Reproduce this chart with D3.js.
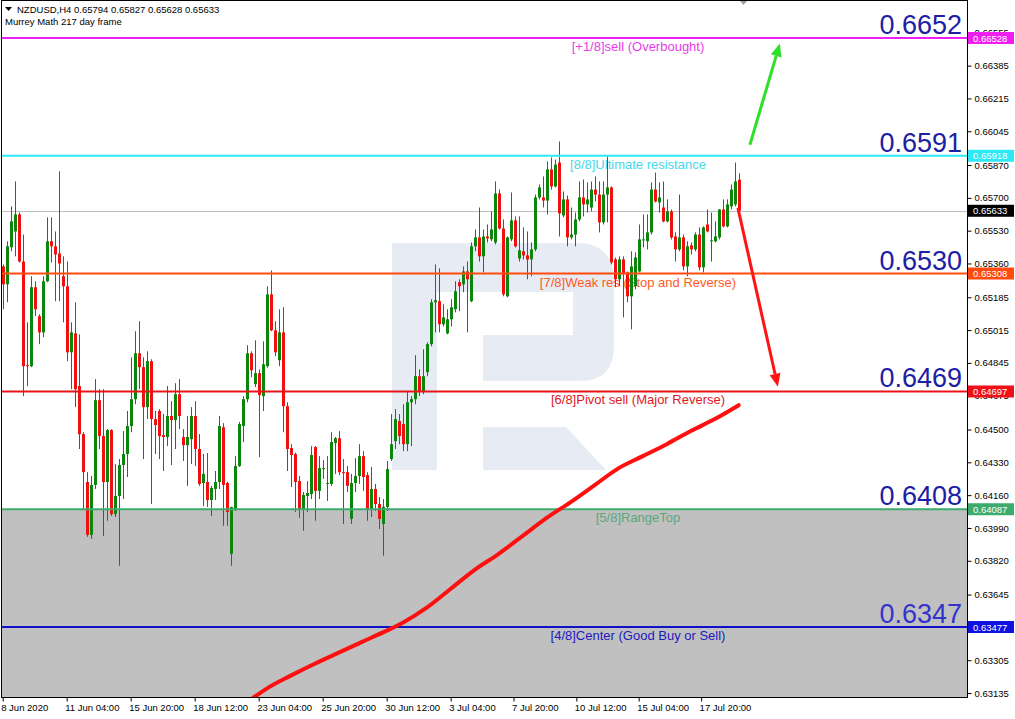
<!DOCTYPE html>
<html><head><meta charset="utf-8">
<script src="https://cdn.jsdelivr.net/npm/d3@7"></script>
<style>
body{margin:0;background:#fff}
svg{display:block;font-family:"Liberation Sans",Arial,sans-serif}
</style>
</head><body>
<svg id="c" width="1015" height="719"></svg>
<script>
// ---------------- DATA ----------------
const symbolTitle = "NZDUSD,H4  0.65794 0.65827 0.65628 0.65633";
const indicatorTitle = "Murrey Math 217 day frame";

const opens = [0.65345,0.65252,0.65444,0.65526,0.65614,0.65370,0.64833,0.64828,0.65237,0.65087,
0.65003,0.65268,0.65475,0.65449,0.65412,0.65294,0.65242,0.64900,0.64998,0.64725,
0.64476,0.64228,0.63954,0.64213,0.64652,0.64466,0.64228,0.64497,0.64062,0.64156,
0.64316,0.64373,0.64518,0.64657,0.64895,0.64823,0.64616,0.64854,0.64554,0.64596,
0.64471,0.64461,0.64570,0.64549,0.64683,0.64461,0.64419,0.64450,0.64570,0.64399,
0.64223,0.64228,0.64135,0.64192,0.64228,0.64512,0.64223,0.63856,0.64088,0.64311,
0.64518,0.64657,0.64895,0.64735,0.64792,0.64673,0.64828,0.65200,0.65014,0.64859,
0.65003,0.64621,0.64404,0.64373,0.64233,0.64088,0.64156,0.64166,0.64409,0.64182,
0.64295,0.64218,0.64218,0.64430,0.64455,0.64279,0.64279,0.64037,0.64223,0.64259,
0.64362,0.64264,0.64088,0.64192,0.64114,0.64011,0.64099,0.64347,0.64440,0.64544,
0.64528,0.64424,0.64641,0.64657,0.64776,0.64694,0.64797,0.64942,0.65159,0.65165,
0.65045,0.64998,0.65071,0.65123,0.65263,0.65252,0.65319,0.65165,0.65449,0.65495,
0.65397,0.65500,0.65485,0.65469,0.65723,0.65541,0.65190,0.65485,0.65583,0.65386,
0.65423,0.65402,0.65381,0.65433,0.65702,0.65702,0.65686,0.65847,0.65759,0.65883,
0.65609,0.65692,0.65495,0.65510,0.65588,0.65702,0.65666,0.65650,0.65743,0.65717,
0.65573,0.65717,0.65754,0.65381,0.65278,0.65381,0.65314,0.65190,0.65242,0.65319,
0.65480,0.65475,0.65521,0.65743,0.65676,0.65650,0.65578,0.65630,0.65500,0.65433,
0.65495,0.65345,0.65454,0.65433,0.65510,0.65340,0.65562,0.65475,0.65475,0.65495,
0.65640,0.65552,0.65656,0.65666,0.65794];
const highs = [0.65355,0.65475,0.65656,0.65785,0.65624,0.65510,0.65055,0.65294,0.65268,0.65097,
0.65294,0.65599,0.65599,0.65526,0.65837,0.65397,0.65370,0.65055,0.65159,0.64993,
0.64486,0.64279,0.64259,0.64761,0.64709,0.64709,0.64502,0.64502,0.64321,0.64347,
0.64492,0.64596,0.64874,0.65009,0.65061,0.64874,0.64905,0.64864,0.64596,0.64606,
0.64580,0.64725,0.64647,0.64740,0.64761,0.64502,0.64570,0.64616,0.64647,0.64476,
0.64373,0.64378,0.64208,0.64285,0.64570,0.64533,0.64230,0.64099,0.64362,0.64539,
0.64673,0.64937,0.64905,0.64962,0.64812,0.64957,0.65242,0.65324,0.65061,0.65123,
0.65133,0.64641,0.64424,0.64380,0.64259,0.64176,0.64233,0.64414,0.64414,0.64362,
0.64342,0.64362,0.64486,0.64461,0.64492,0.64347,0.64311,0.64270,0.64352,0.64424,
0.64388,0.64279,0.64306,0.64218,0.64150,0.64140,0.64337,0.64580,0.64606,0.64580,
0.64631,0.64694,0.64673,0.64885,0.64812,0.64916,0.64952,0.65175,0.65355,0.65335,
0.65149,0.65123,0.65175,0.65268,0.65278,0.65345,0.65370,0.65469,0.65536,0.65650,
0.65536,0.65562,0.65630,0.65785,0.65743,0.65588,0.65500,0.65728,0.65604,0.65604,
0.65547,0.65526,0.65469,0.65717,0.65769,0.65811,0.65888,0.65909,0.65898,0.65992,
0.65733,0.65712,0.65650,0.65624,0.65785,0.65795,0.65780,0.65785,0.65811,0.65785,
0.65785,0.65914,0.65759,0.65391,0.65397,0.65397,0.65319,0.65423,0.65418,0.65562,
0.65614,0.65614,0.65780,0.65831,0.65780,0.65785,0.65692,0.65640,0.65521,0.65717,
0.65510,0.65475,0.65469,0.65521,0.65547,0.65552,0.65640,0.65624,0.65578,0.65640,
0.65692,0.65692,0.65769,0.65883,0.65827];
const lows = [0.65123,0.65159,0.65423,0.65397,0.65365,0.64673,0.64725,0.64823,0.65087,0.64942,
0.64978,0.65263,0.65365,0.65165,0.65165,0.65055,0.64854,0.64709,0.64616,0.64399,
0.64088,0.63944,0.63933,0.64192,0.64399,0.63949,0.64027,0.64052,0.64047,0.63794,
0.64140,0.64254,0.64486,0.64631,0.64709,0.64347,0.64554,0.64114,0.64373,0.64347,
0.64285,0.64414,0.64316,0.64399,0.64502,0.64337,0.64208,0.64321,0.64311,0.64208,
0.64104,0.64099,0.64052,0.64135,0.64192,0.64001,0.64001,0.63794,0.64078,0.64306,
0.64435,0.64641,0.64771,0.64720,0.64357,0.64596,0.64820,0.65009,0.64880,0.64828,
0.64486,0.64285,0.64202,0.64073,0.64042,0.63975,0.64073,0.64140,0.64027,0.64140,
0.64244,0.64130,0.64208,0.64270,0.64264,0.64011,0.64176,0.64011,0.64176,0.64218,
0.64182,0.64027,0.64047,0.64078,0.63985,0.63846,0.64078,0.64337,0.64399,0.64424,
0.64388,0.64388,0.64414,0.64631,0.64673,0.64683,0.64776,0.64931,0.65003,0.65003,
0.65034,0.64993,0.65034,0.65107,0.65113,0.65211,0.65003,0.65159,0.65423,0.65370,
0.65314,0.65469,0.65475,0.65459,0.65536,0.65190,0.65185,0.65475,0.65443,0.65370,
0.65381,0.65278,0.65294,0.65423,0.65692,0.65650,0.65614,0.65743,0.65754,0.65500,
0.65599,0.65449,0.65485,0.65449,0.65578,0.65604,0.65624,0.65630,0.65681,0.65521,
0.65562,0.65573,0.65355,0.65237,0.65242,0.65081,0.65159,0.65019,0.65226,0.65314,
0.65443,0.65433,0.65510,0.65676,0.65624,0.65573,0.65573,0.65485,0.65370,0.65423,
0.65324,0.65294,0.65407,0.65423,0.65324,0.65314,0.65521,0.65370,0.65469,0.65485,
0.65547,0.65547,0.65640,0.65656,0.65628];
const closes = [0.65252,0.65449,0.65578,0.65614,0.65370,0.64828,0.64828,0.65237,0.65123,0.65003,
0.65268,0.65475,0.65449,0.65407,0.65360,0.65242,0.64900,0.65003,0.64709,0.64476,
0.64279,0.63954,0.64213,0.64652,0.64466,0.64228,0.64497,0.64062,0.64156,0.64316,
0.64373,0.64518,0.64657,0.64895,0.64823,0.64616,0.64854,0.64554,0.64523,0.64466,
0.64461,0.64570,0.64549,0.64683,0.64570,0.64419,0.64461,0.64570,0.64399,0.64218,
0.64270,0.64135,0.64197,0.64228,0.64518,0.64213,0.64073,0.64099,0.64311,0.64528,
0.64657,0.64895,0.64807,0.64792,0.64678,0.64838,0.65200,0.65014,0.64900,0.65003,
0.64621,0.64399,0.64368,0.64228,0.64088,0.64161,0.64171,0.64368,0.64182,0.64300,
0.64300,0.64223,0.64435,0.64455,0.64279,0.64274,0.64208,0.64223,0.64259,0.64362,
0.64254,0.64088,0.64192,0.64114,0.64037,0.64099,0.64295,0.64424,0.64554,0.64466,
0.64424,0.64641,0.64657,0.64776,0.64694,0.64776,0.64942,0.65159,0.65170,0.65045,
0.65081,0.65071,0.65133,0.65216,0.65242,0.65319,0.65278,0.65449,0.65495,0.65397,
0.65500,0.65490,0.65536,0.65723,0.65541,0.65200,0.65495,0.65583,0.65449,0.65428,
0.65402,0.65381,0.65433,0.65702,0.65754,0.65686,0.65847,0.65759,0.65872,0.65619,
0.65692,0.65495,0.65510,0.65588,0.65702,0.65666,0.65692,0.65743,0.65717,0.65573,
0.65717,0.65754,0.65365,0.65278,0.65381,0.65304,0.65190,0.65345,0.65391,0.65485,
0.65485,0.65521,0.65743,0.65681,0.65702,0.65578,0.65630,0.65495,0.65433,0.65495,
0.65345,0.65449,0.65433,0.65510,0.65340,0.65547,0.65526,0.65480,0.65500,0.65640,
0.65552,0.65666,0.65743,0.65785,0.65633];

// 200-period moving average, sampled at bar indices
const maBars   = [62,66,72,78,84,90,96,100,106,112,118,124,130,136,142,148,154,160,166,172,178,184];
const maValues = [0.63101,0.63158,0.63225,0.63287,0.63344,0.63401,0.63458,0.63499,0.63577,0.63675,
0.63773,0.63856,0.63949,0.64042,0.64124,0.64212,0.64300,0.64362,0.64424,0.64492,0.64554,0.64626];

// Murrey Math levels
const levelValues = [0.66528,0.65918,0.65308,0.64697,0.64087,0.63477];
const levelTexts  = ["[+1/8]sell (Overbought)","[8/8]Ultimate resistance","[7/8]Weak res (Stop and Reverse)",
                     "[6/8]Pivot sell (Major Reverse)","[5/8]RangeTop","[4/8]Center (Good Buy or Sell)"];
const levelBig    = ["0.6652","0.6591","0.6530","0.6469","0.6408","0.6347"];
const currentPrice = 0.65633;

// axis ticks
const priceTicks = [0.66555,0.66385,0.66215,0.66045,0.65870,0.65700,0.65530,0.65360,0.65185,0.65015,
                    0.64845,0.64675,0.64500,0.64330,0.64160,0.63990,0.63820,0.63645,0.63475,0.63305,0.63135];
const timeTickBars = [0,16,32,48,64,80,96,112,127.7,143.4,159,174.6];
const timeLabels = ["8 Jun 2020","11 Jun 04:00","15 Jun 20:00","18 Jun 12:00","23 Jun 04:00","25 Jun 20:00",
                    "30 Jun 12:00","3 Jul 04:00","7 Jul 20:00","10 Jul 12:00","15 Jul 04:00","17 Jul 20:00"];

// forecast arrows: [barFrom, priceFrom, barTo, priceTo]
const arrowUp   = [186.8,0.65975,194.3,0.66500];
const arrowDown = [183.8,0.65648,193.8,0.64722];

// ---------------- STYLE ----------------
const levelColors = ["#f01ef0","#2ee8f5","#ff4a10","#e8141a","#3daa6e","#1010c8"];
const levelTextColors = ["#e83ce8","#44d8ec","#ff5a1e","#e01822","#58a87c","#1a1ac0"];
const levelBoxColors = ["#f01ef0","#2ee8f5","#ff4a10","#f01018","#3daa6e","#1010e0"];
const upColor = "#0b850b", downColor = "#f01010";

const L = 2, R = 967, T = 1, B = 697;

const svg = d3.select("#c");
const x = d3.scaleLinear().domain([0,184]).range([2.7,738.7]);
const y = d3.scaleLinear().domain([0.63477,0.66528]).range([627,38]);

svg.append("rect").attr("width",1015).attr("height",719).attr("fill","#fff");
svg.append("defs").append("clipPath").attr("id","plot")
  .append("rect").attr("x",L).attr("y",T).attr("width",R-L).attr("height",B-T);

const plot = svg.append("g").attr("clip-path","url(#plot)");

// gray zone below 5/8
plot.append("rect").attr("x",L).attr("width",R-L)
  .attr("y",y(levelValues[4])).attr("height",B-y(levelValues[4])).attr("fill","#c0c0c0");

// watermark logo
const wm = plot.append("g").attr("fill","#e7ebf3");
wm.append("path").attr("d","M392,243H437V470H392Z");
wm.append("path").attr("d","M437,243H576Q614,243 614,281V346Q614,381 580,381H483V335H573V292H437Z");
wm.append("path").attr("d","M483,427H566L606,470H483Z");

// level label texts (behind candles)
plot.selectAll("text.lvl").data(levelValues).enter().append("text")
  .attr("x",638).attr("y",d=>y(d)+13).attr("text-anchor","middle")
  .attr("font-size",13).attr("fill",(d,i)=>levelTextColors[i]).text((d,i)=>levelTexts[i]);

// current price line
plot.append("line").attr("x1",L).attr("x2",R).attr("y1",Math.round(y(currentPrice))+0.5)
  .attr("y2",Math.round(y(currentPrice))+0.5).attr("stroke","#c0c0c0").attr("stroke-width",1);

// candles
const idx = d3.range(opens.length);
const cg = plot.append("g");
idx.forEach(i=>{
  const cx = Math.round(x(i));
  const up = closes[i] >= opens[i];
  const col = up ? upColor : downColor;
  cg.append("line").attr("x1",cx+0.5).attr("x2",cx+0.5)
    .attr("y1",y(highs[i])).attr("y2",y(lows[i])).attr("stroke",col).attr("stroke-width",1);
  const yt = Math.min(y(opens[i]),y(closes[i])), yb = Math.max(y(opens[i]),y(closes[i]));
  cg.append("rect").attr("x",cx-1).attr("width",3).attr("y",yt).attr("height",Math.max(1,yb-yt)).attr("fill",col);
});

// level lines
plot.selectAll("line.lv").data(levelValues).enter().append("line")
  .attr("x1",L).attr("x2",R).attr("y1",d=>y(d)).attr("y2",d=>y(d))
  .attr("stroke",(d,i)=>levelColors[i]).attr("stroke-width",2);

// moving average
plot.append("path").datum(maBars.map((b,i)=>[b,maValues[i]]))
  .attr("d",d3.line().x(d=>x(d[0])).y(d=>y(d[1])).curve(d3.curveMonotoneX))
  .attr("fill","none").attr("stroke","#ff1010").attr("stroke-width",4).attr("stroke-linecap","round");

// arrows
function arrow(a,color){
  const x1=x(a[0]),y1=y(a[1]),x2=x(a[2]),y2=y(a[3]);
  const ang=Math.atan2(y2-y1,x2-x1), len=13, hw=5.5;
  const bx=x2-len*Math.cos(ang), by=y2-len*Math.sin(ang);
  svg.append("line").attr("x1",x1).attr("y1",y1).attr("x2",bx).attr("y2",by)
    .attr("stroke",color).attr("stroke-width",3);
  const px=-Math.sin(ang)*hw, py=Math.cos(ang)*hw;
  svg.append("path").attr("d",`M${x2},${y2}L${bx+px},${by+py}L${bx-px},${by-py}Z`).attr("fill",color);
}
arrow(arrowUp,"#2fe02a");
arrow(arrowDown,"#ff1414");

// big level numbers
svg.selectAll("text.big").data(levelValues).enter().append("text")
  .attr("x",962).attr("y",d=>y(d)-4).attr("text-anchor","end")
  .attr("font-size",27).attr("fill",(d,i)=>i===5?"#3434cc":"#1c20a4").text((d,i)=>levelBig[i]);

// header
svg.append("path").attr("d","M5,7H12L8.5,11Z").attr("fill","#000");
svg.append("text").attr("x",17).attr("y",13).attr("font-size",9.5).attr("fill","#000").text(symbolTitle);
svg.append("text").attr("x",5).attr("y",25).attr("font-size",9.5).attr("fill","#000").text(indicatorTitle);
svg.append("path").attr("d","M739,0H748L743.5,5Z").attr("fill","#a0a0a0");

// frame
svg.append("rect").attr("x",L-0.5).attr("y",T-0.5).attr("width",R-L+1).attr("height",B-T+1)
  .attr("fill","none").attr("stroke","#000").attr("stroke-width",1);

// right axis
const ra = svg.append("g").attr("transform",`translate(${R+0.5},0)`)
  .call(d3.axisRight(y).tickValues(priceTicks).tickSize(4).tickFormat(d3.format(".5f")));
ra.select(".domain").remove();
ra.selectAll("text").attr("font-size",9.5).attr("font-family","Liberation Sans, Arial").attr("fill","#000").attr("x",7);
ra.selectAll("line").attr("stroke","#000");

// bottom axis
const ba = svg.append("g").attr("transform",`translate(0,${B+0.5})`)
  .call(d3.axisBottom(x).tickValues(timeTickBars).tickSize(4).tickFormat((d,i)=>timeLabels[i]));
ba.select(".domain").remove();
ba.selectAll("text").attr("font-size",9.5).attr("font-family","Liberation Sans, Arial").attr("fill","#000")
  .attr("text-anchor","start").attr("dx",-2).attr("y",7);
ba.selectAll("line").attr("stroke","#000");

// price boxes on right axis
const boxes = levelValues.map((v,i)=>({v,c:levelBoxColors[i]})).concat([{v:currentPrice,c:"#000"}]);
const bg = svg.append("g");
boxes.forEach(b=>{
  const yy=y(b.v);
  bg.append("rect").attr("x",R+1).attr("y",yy-6).attr("width",46).attr("height",12).attr("fill",b.c);
  bg.append("text").attr("x",R+6).attr("y",yy+3.5).attr("font-size",9.5).attr("fill","#fff").text(b.v.toFixed(5));
});
</script>
</body></html>
